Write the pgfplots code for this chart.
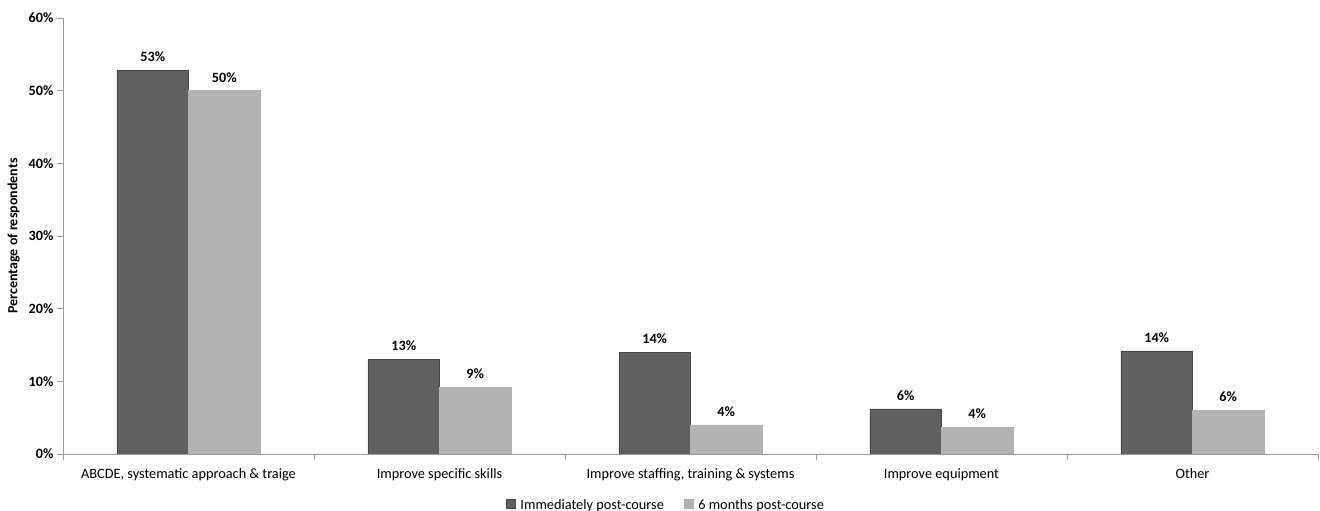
\documentclass[border=0pt]{standalone}
\usepackage{fontspec}
\setmainfont{Carlito}
\usepackage{pgfplots}
\pgfplotsset{compat=1.18}
\definecolor{darkbar}{HTML}{606060}
\definecolor{lightbar}{HTML}{B3B3B3}
\definecolor{axisgray}{HTML}{9A9A9A}
\begin{document}
\begin{tikzpicture}[x=1pt,y=1pt]
\path[use as bounding box] (0,0) rectangle (1320,511);
\begin{axis}[
  at={(63pt,57pt)}, anchor=south west,
  width=1255pt, height=436pt, scale only axis,
  ybar=0pt, bar width=0.285,
  xmin=-0.5, xmax=4.5, ymin=0, ymax=60,
  axis lines*=left,
  axis line style={axisgray, line width=0.8pt},
  tick style={axisgray, line width=0.8pt},
  tick align=outside,
  major tick length=6pt, minor tick length=6pt,
  xtick={0,1,2,3,4},
  xticklabels={{ABCDE, systematic approach \& traige},{Improve specific skills},{Improve staffing, training \& systems},{Improve equipment},{Other}},
  major x tick style={draw=none},
  minor xtick={-0.5,0.5,1.5,2.5,3.5,4.5},
  ytick={0,10,20,30,40,50,60},
  yticklabels={0\%,10\%,20\%,30\%,40\%,50\%,60\%},
  yticklabel style={font=\fontsize{14.2}{16}\selectfont\bfseries},
  xticklabel style={font=\fontsize{14.3}{16}\selectfont, yshift=-5pt},
  ylabel={Percentage of respondents},
  ylabel style={font=\fontsize{14}{16}\selectfont\bfseries, yshift=2pt},
  point meta=explicit symbolic,
  nodes near coords,
  nodes near coords style={font=\fontsize{14.2}{16}\selectfont\bfseries, yshift=5pt},
  legend style={at={(0.4805,-0.117)}, anchor=center, draw=none, fill=none,
    legend columns=2, font=\fontsize{14.3}{16}\selectfont,
    nodes={inner xsep=2pt},
    /tikz/every even column/.append style={column sep=18pt}},
  legend image code/.code={\fill[#1] (0pt,-3pt) rectangle (9pt,6pt);},
]
\addplot[fill=darkbar, draw=darkbar!75!black] coordinates {
  (0,52.8) [53\%]
  (1,13.0) [13\%]
  (2,14.0) [14\%]
  (3,6.2) [6\%]
  (4,14.2) [14\%]
};
\addlegendentry{\hspace{3pt}Immediately post-course}
\addplot[fill=lightbar, draw=lightbar] coordinates {
  (0,50.0) [50\%]
  (1,9.2) [9\%]
  (2,4.0) [4\%]
  (3,3.7) [4\%]
  (4,6.0) [6\%]
};
\addlegendentry{\hspace{3pt}6 months post-course}
\end{axis}
\end{tikzpicture}
\end{document}
